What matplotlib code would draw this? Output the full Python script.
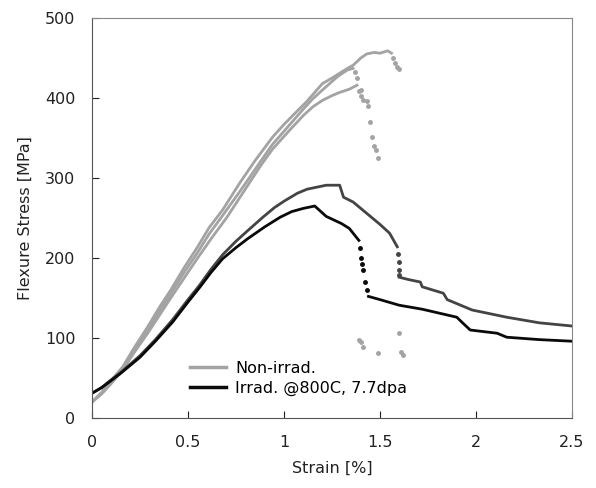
import matplotlib
matplotlib.use("Agg")
import matplotlib.pyplot as plt

# Non-irradiated specimens (three tests)
na_x = [0, 0.05, 0.10, 0.16, 0.22, 0.29, 0.35, 0.41, 0.48, 0.55, 0.61, 0.68, 0.77, 0.85, 0.94, 1.00, 1.07, 1.12, 1.16, 1.20,
        1.25, 1.29, 1.33, 1.36, 1.40, 1.43, 1.47, 1.50, 1.54, 1.56]
na_y = [20, 32, 47, 64, 88, 114, 138, 160, 188, 214, 238, 260, 294, 322, 351, 367, 384, 396, 407, 418,
        425, 431, 437, 441, 450, 455, 457, 456, 459, 456]
na_tail_x = [1.57, 1.58, 1.59, 1.60]
na_tail_y = [450, 444, 439, 436]

nb_x = [0, 0.05, 0.10, 0.16, 0.22, 0.29, 0.35, 0.41, 0.48, 0.55, 0.61, 0.68, 0.79, 0.87, 0.94, 1.02, 1.10, 1.15, 1.20,
        1.28, 1.33, 1.36]
nb_y = [20, 31, 45, 62, 85, 110, 133, 155, 182, 207, 230, 253, 290, 318, 342, 364, 386, 399, 410,
        427, 435, 437]
nb_tail_x = [1.37, 1.38, 1.40, 1.41, 1.43, 1.44, 1.45, 1.46, 1.47, 1.48, 1.49]
nb_tail_y = [432, 425, 410, 398, 396, 390, 370, 351, 340, 335, 325]

nc_x = [0, 0.05, 0.10, 0.16, 0.22, 0.29, 0.35, 0.41, 0.48, 0.55, 0.62, 0.70, 0.82, 0.88, 0.94, 1.03, 1.10, 1.15, 1.20,
        1.25, 1.29, 1.34, 1.38]
nc_y = [20, 30, 43, 60, 82, 106, 128, 150, 175, 200, 224, 250, 294, 316, 336, 360, 378, 389, 397,
        403, 407, 411, 416]
nc_tail_x = [1.39, 1.40]
nc_tail_y = [409, 402]

debris_x = [1.39, 1.40, 1.41, 1.49, 1.60, 1.61, 1.62]
debris_y = [98, 95, 89, 81, 106, 82, 79]

# Irradiated @800C, 7.7dpa (two tests)
id_x = [0, 0.05, 0.09, 0.15, 0.25, 0.33, 0.42, 0.50, 0.56, 0.62, 0.68, 0.75, 0.81, 0.89, 0.95, 1.00, 1.07, 1.12, 1.18,
        1.22, 1.29, 1.31, 1.36, 1.43, 1.50, 1.55, 1.59]
id_y = [31, 38, 46, 57, 78, 98, 123, 148, 166, 186, 204, 221, 234, 251, 263, 271, 281, 286, 289,
        291, 291, 276, 270, 256, 242, 231, 214]
id_drop_x = [1.595, 1.60, 1.60, 1.60]
id_drop_y = [205, 195, 185, 179]
id_post_x = [1.60, 1.65, 1.71, 1.72, 1.83, 1.85, 1.98, 2.16, 2.33, 2.5]
id_post_y = [176, 173, 170, 164, 156, 148, 135, 126, 119, 115]

ie_x = [0, 0.05, 0.09, 0.15, 0.25, 0.33, 0.42, 0.50, 0.56, 0.62, 0.68, 0.75, 0.81, 0.90, 0.98, 1.04, 1.10, 1.16,
        1.22, 1.30, 1.34, 1.39]
ie_y = [31, 38, 45, 56, 76, 96, 120, 145, 163, 182, 199, 213, 224, 239, 251, 258, 262, 265,
        252, 243, 237, 222]
ie_drop_x = [1.395, 1.40, 1.405, 1.41, 1.42, 1.43]
ie_drop_y = [212, 200, 192, 185, 170, 160]
ie_post_x = [1.44, 1.50, 1.60, 1.72, 1.90, 1.93, 1.97, 2.11, 2.16, 2.33, 2.5]
ie_post_y = [152, 148, 141, 136, 126, 119, 110, 106, 101, 98, 96]

gray = '#a3a3a3'
dark = '#444444'
black = '#0a0a0a'

fig = plt.figure(figsize=(5.96, 4.88), dpi=100)
ax = fig.add_axes([0.1544, 0.1434, 0.8053, 0.8197])

lw = 2.0
ax.plot(na_x, na_y, color=gray, lw=lw, label='Non-irrad.')
ax.plot(nb_x, nb_y, color=gray, lw=lw)
ax.plot(nc_x, nc_y, color=gray, lw=lw)
for tx, ty in [(na_tail_x, na_tail_y), (nb_tail_x, nb_tail_y), (nc_tail_x, nc_tail_y), (debris_x, debris_y)]:
    ax.plot(tx, ty, ls='none', marker='o', ms=2.5, color=gray)

ax.plot(id_x, id_y, color=dark, lw=lw)
ax.plot(id_drop_x, id_drop_y, ls='none', marker='o', ms=2.5, color=dark)
ax.plot(id_post_x, id_post_y, color=dark, lw=lw)

ax.plot(ie_x, ie_y, color=black, lw=lw, label='Irrad. @800C, 7.7dpa')
ax.plot(ie_drop_x, ie_drop_y, ls='none', marker='o', ms=2.5, color=black)
ax.plot(ie_post_x, ie_post_y, color=black, lw=lw)

ax.set_xlim(0, 2.5)
ax.set_ylim(0, 500)
ax.set_xticks([0, 0.5, 1, 1.5, 2, 2.5])
ax.set_xticklabels(['0', '0.5', '1', '1.5', '2', '2.5'])
ax.set_yticks([0, 100, 200, 300, 400, 500])
ax.tick_params(direction='in', length=5, labelsize=11.5, colors='#222222')
ax.tick_params(axis='x', pad=12)
ax.tick_params(axis='y', pad=12)
for s in ['left', 'bottom']:
    ax.spines[s].set_color('#555555')
for s in ['right', 'top']:
    ax.spines[s].set_color('#888888')

ax.set_xlabel('Strain [%]', fontsize=11.5, color='#222222', labelpad=8)
ax.set_ylabel('Flexure Stress [MPa]', fontsize=11.5, color='#222222', labelpad=9)

leg = ax.legend(loc='lower left', bbox_to_anchor=(0.175, 0.02), frameon=False,
                fontsize=11.5, handlelength=2.2, handletextpad=0.6, labelspacing=0.3)
for line in leg.get_lines():
    line.set_linewidth(2.5)

fig.savefig('out.png', dpi=100)
